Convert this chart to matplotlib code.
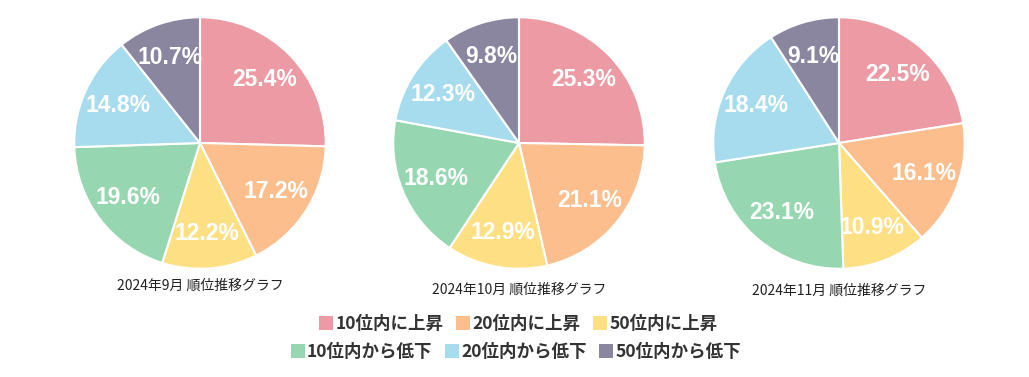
import matplotlib.pyplot as plt
from matplotlib.patches import Patch

plt.rcParams['font.family'] = ['Noto Sans CJK JP', 'DejaVu Sans']

labels = ['10位内に上昇', '20位内に上昇', '50位内に上昇',
          '10位内から低下', '20位内から低下', '50位内から低下']
colors = ['#EC9BA4', '#FBBE8C', '#FDDF84', '#96D7B1', '#A7DCEE', '#8A86A0']

titles = ['2024年9月 順位推移グラフ', '2024年10月 順位推移グラフ', '2024年11月 順位推移グラフ']
sep_vals = [25.4, 17.2, 12.2, 19.6, 14.8, 10.7]
oct_vals = [25.3, 21.1, 12.9, 18.6, 12.3, 9.8]
nov_vals = [22.5, 16.1, 10.9, 23.1, 18.4, 9.1]
all_vals = [sep_vals, oct_vals, nov_vals]

W, H = 1029, 377
fig = plt.figure(figsize=(W / 100, H / 100), dpi=100)

centers_x = [200, 519, 839]
center_y = 143
r = 127
title_y = [286, 290, 291]

for cx, vals, title, ty in zip(centers_x, all_vals, titles, title_y):
    ax = fig.add_axes([(cx - r) / W, (H - center_y - r) / H, 2 * r / W, 2 * r / H])
    wedges, texts, autotexts = ax.pie(
        vals, colors=colors, startangle=90, counterclock=False,
        autopct=lambda p: f'{p:.1f}%', pctdistance=0.72, radius=1,
        wedgeprops=dict(edgecolor='white', linewidth=1.5))
    for t in autotexts:
        t.set_color('white')
        t.set_fontweight('bold')
        t.set_fontsize(16.5)
        t.set_family(['Liberation Sans', 'DejaVu Sans'])
    ax.set_xlim(-1.01, 1.01)
    ax.set_ylim(-1.01, 1.01)
    ax.set_aspect('equal')
    ax.axis('off')
    fig.text(cx / W, 1 - ty / H, title, ha='center', va='center',
             fontsize=10, color='#222222')

handles = [Patch(facecolor=c, edgecolor='none') for c in colors]
leg_kw = dict(ncol=3, frameon=False, handlelength=0.8, handleheight=0.8,
              handletextpad=0.15, columnspacing=0.7, borderpad=0,
              prop={'family': ['Noto Sans CJK JP', 'DejaVu Sans'], 'weight': 'bold', 'size': 12.6},
              labelcolor='#333333')
fig.legend(handles[:3], labels[:3], loc='center', bbox_to_anchor=(518 / W, 1 - 324 / H), **leg_kw)
fig.legend(handles[3:], labels[3:], loc='center', bbox_to_anchor=(516 / W, 1 - 352 / H), **leg_kw)

fig.savefig('out.png', dpi=100, facecolor='white')
